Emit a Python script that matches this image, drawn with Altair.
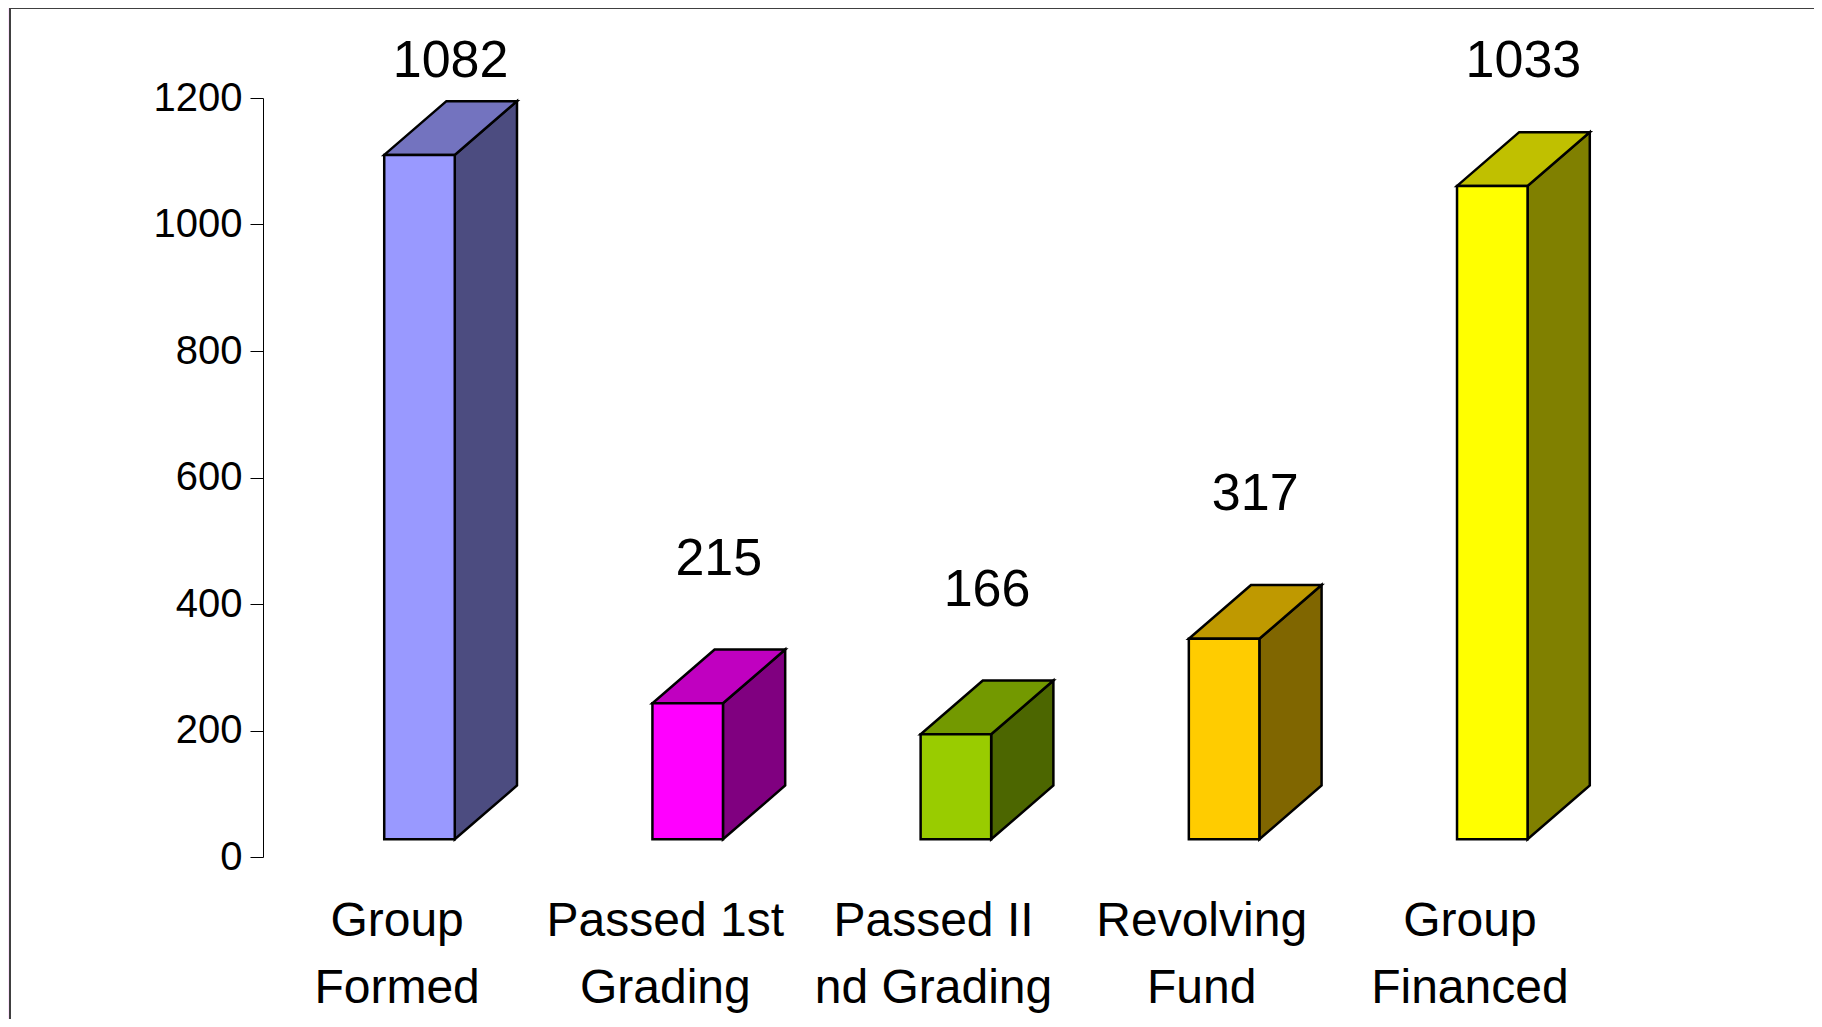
import altair as alt
import pandas as pd

categories = ["Group\nFormed", "Passed 1st\nGrading", "Passed II\nnd Grading", "Revolving\nFund", "Group\nFinanced"]
values = [1082, 215, 166, 317, 1033]
front_colors = ["#9999FF", "#FF00FF", "#99CC00", "#FFCC00", "#FFFF00"]
side_colors = ["#4C4C80", "#800080", "#4C6600", "#806600", "#808000"]
top_colors = ["#7373BF", "#C000C0", "#739900", "#BF9900", "#C0C000"]
y_ticks = [0, 200, 400, 600, 800, 1000, 1200]

# 3D projection constants (in scale units)
FRONT_L, FRONT_R = 0.452, 0.715   # front face within each category band
DX, DY = 0.232, 85                # depth shift (x units, value units)
FLOOR = 28                        # front face raised above the axis zero
LABEL_GAP, LABEL_CAP = 118, 1233

W, H = 1341, 759
FONT = "Liberation Sans"

front_rows, side_rows, top_rows, label_rows, cat_rows = [], [], [], [], []
for i, (c, v) in enumerate(zip(categories, values)):
    bot, top = FLOOR, v + FLOOR
    xl, xr = i + FRONT_L, i + FRONT_R
    front_rows.append(dict(bar=i, x=xl, x2=xr, y=top, y2=bot, color=front_colors[i]))
    side_rows += [dict(bar=i, x=xr, y=top, y2=bot, color=side_colors[i]),
                  dict(bar=i, x=xr + DX, y=top + DY, y2=bot + DY, color=side_colors[i])]
    top_rows += [dict(bar=i, y=top, x=xl, x2=xr, color=top_colors[i]),
                 dict(bar=i, y=top + DY, x=xl + DX, x2=xr + DX, color=top_colors[i])]
    label_rows.append(dict(x=i + (FRONT_L + FRONT_R + DX) / 2,
                           y=min(v + FLOOR + DY + LABEL_GAP, LABEL_CAP), text=str(v)))
    cat_rows.append(dict(x=i + 0.5, text=c))

xs = alt.Scale(domain=[0, 5], nice=False, zero=False)
ys = alt.Scale(domain=[0, 1200], nice=False)

bg = alt.Chart(pd.DataFrame({"a": [0]})).mark_rect(
    fill="white", stroke="#404040", strokeWidth=2
).encode(x=alt.value(-253), x2=alt.value(W + 400), y=alt.value(-90), y2=alt.value(H + 400))

yaxis = alt.Axis(
    values=y_ticks, format="d", title=None, grid=False, labelFont=FONT, labelFontSize=40,
    labelColor="black", tickColor="black", domainColor="black", tickSize=13,
    labelPadding=8, domainWidth=1, tickWidth=1, zindex=5)

axis_layer = alt.Chart(pd.DataFrame({"v": [0, 1200]})).mark_point(opacity=0).encode(
    y=alt.Y("v:Q", scale=ys, axis=yaxis),
    x=alt.value(0),
)

side = alt.Chart(pd.DataFrame(side_rows)).mark_area(
    orient="vertical", stroke="black", strokeWidth=2.5, strokeJoin="miter"
).encode(
    x=alt.X("x:Q", scale=xs, axis=None),
    y=alt.Y("y:Q", scale=ys, axis=yaxis),
    y2="y2:Q",
    detail="bar:N",
    fill=alt.Fill("color:N", scale=None),
)

topf = alt.Chart(pd.DataFrame(top_rows)).mark_area(
    orient="horizontal", stroke="black", strokeWidth=2.5, strokeJoin="miter"
).encode(
    y=alt.Y("y:Q", scale=ys, axis=yaxis),
    x=alt.X("x:Q", scale=xs, axis=None),
    x2="x2:Q",
    detail="bar:N",
    fill=alt.Fill("color:N", scale=None),
)

front = alt.Chart(pd.DataFrame(front_rows)).mark_rect(
    stroke="black", strokeWidth=2.5, strokeJoin="miter"
).encode(
    x=alt.X("x:Q", scale=xs, axis=None), x2="x2:Q",
    y=alt.Y("y:Q", scale=ys, axis=yaxis), y2="y2:Q",
    fill=alt.Fill("color:N", scale=None),
)

labels = alt.Chart(pd.DataFrame(label_rows)).mark_text(
    font=FONT, fontSize=52, color="black", align="center", baseline="alphabetic"
).encode(
    x=alt.X("x:Q", scale=xs, axis=None),
    y=alt.Y("y:Q", scale=ys, axis=yaxis),
    text="text:N",
)

cats = alt.Chart(pd.DataFrame(cat_rows)).mark_text(
    font=FONT, fontSize=48, color="black", align="center", baseline="alphabetic",
    lineBreak="\n", lineHeight=67
).encode(
    x=alt.X("x:Q", scale=xs, axis=None),
    y=alt.value(H + 79),
    text="text:N",
)

chart = alt.layer(bg, axis_layer, side, topf, front, labels, cats).properties(
    width=W, height=H,
    autosize=alt.AutoSizeParams(type="none"),
    padding={"left": 255, "top": 90, "right": 210, "bottom": 162},
    background="#FDE4FD",
).configure_view(stroke=None)

chart.save("out.html", embed_options={"renderer": "svg", "actions": False})
